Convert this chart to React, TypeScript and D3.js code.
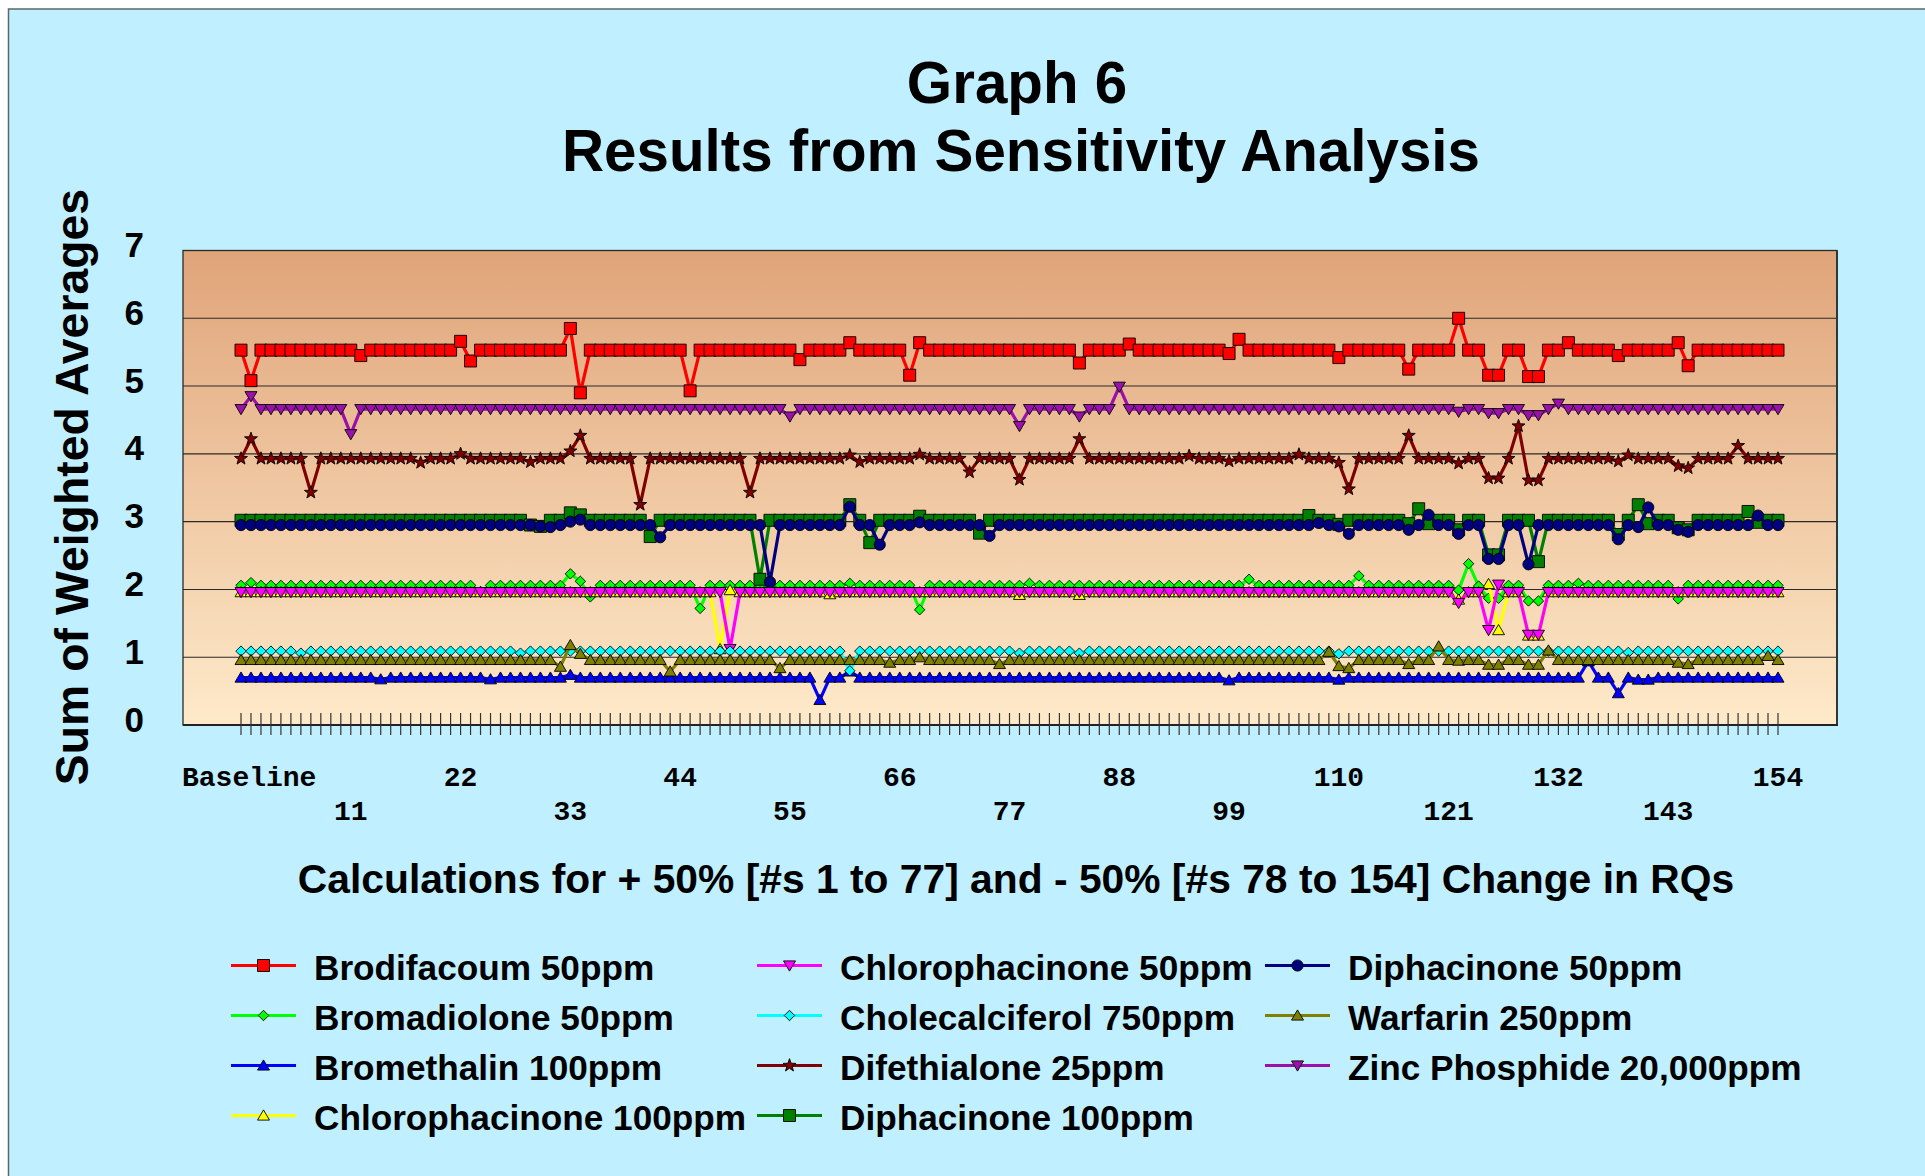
import React from 'react';
import * as d3 from 'd3';

// ---------- DATA ----------
const tickIndex = [0, 11, 22, 33, 44, 55, 66, 77, 88, 99, 110, 121, 132, 143, 154];
const tickLabels = ['Baseline', '11', '22', '33', '44', '55', '66', '77', '88', '99', '110', '121', '132', '143', '154'];
const yTicks = [0, 1, 2, 3, 4, 5, 6, 7];

const brodifacoum = [
  5.53, 5.08, 5.53, 5.53, 5.53, 5.53, 5.53, 5.53, 5.53, 5.53,
  5.53, 5.53, 5.45, 5.53, 5.53, 5.53, 5.53, 5.53, 5.53, 5.53,
  5.53, 5.53, 5.66, 5.37, 5.53, 5.53, 5.53, 5.53, 5.53, 5.53,
  5.53, 5.53, 5.53, 5.85, 4.90, 5.53, 5.53, 5.53, 5.53, 5.53,
  5.53, 5.53, 5.53, 5.53, 5.53, 4.93, 5.53, 5.53, 5.53, 5.53,
  5.53, 5.53, 5.53, 5.53, 5.53, 5.53, 5.39, 5.53, 5.53, 5.53,
  5.53, 5.64, 5.53, 5.53, 5.53, 5.53, 5.53, 5.16, 5.64, 5.53,
  5.53, 5.53, 5.53, 5.53, 5.53, 5.53, 5.53, 5.53, 5.53, 5.53,
  5.53, 5.53, 5.53, 5.53, 5.34, 5.53, 5.53, 5.53, 5.53, 5.62,
  5.53, 5.53, 5.53, 5.53, 5.53, 5.53, 5.53, 5.53, 5.53, 5.48,
  5.69, 5.53, 5.53, 5.53, 5.53, 5.53, 5.53, 5.53, 5.53, 5.53,
  5.42, 5.53, 5.53, 5.53, 5.53, 5.53, 5.53, 5.25, 5.53, 5.53,
  5.53, 5.53, 6.00, 5.53, 5.53, 5.16, 5.16, 5.53, 5.53, 5.14,
  5.14, 5.53, 5.53, 5.64, 5.53, 5.53, 5.53, 5.53, 5.45, 5.53,
  5.53, 5.53, 5.53, 5.53, 5.64, 5.30, 5.53, 5.53, 5.53, 5.53,
  5.53, 5.53, 5.53, 5.53, 5.53,
];

const bromadiolone = [
  2.06, 2.10, 2.06, 2.06, 2.06, 2.06, 2.06, 2.06, 2.06, 2.06,
  2.06, 2.06, 2.06, 2.06, 2.06, 2.06, 2.06, 2.06, 2.06, 2.06,
  2.06, 2.06, 2.06, 2.06, 1.97, 2.06, 2.06, 2.06, 2.06, 2.06,
  2.06, 2.06, 2.06, 2.23, 2.12, 1.89, 2.06, 2.06, 2.06, 2.06,
  2.06, 2.06, 2.06, 2.06, 2.06, 2.06, 1.72, 2.06, 2.06, 2.06,
  2.06, 2.06, 2.06, 2.06, 2.06, 2.06, 2.06, 2.06, 2.06, 2.06,
  2.06, 2.09, 2.06, 2.06, 2.06, 2.06, 2.06, 2.06, 1.70, 2.06,
  2.06, 2.06, 2.06, 2.06, 2.06, 2.06, 2.06, 2.06, 2.06, 2.09,
  2.06, 2.06, 2.06, 2.06, 2.06, 2.06, 2.06, 2.06, 2.06, 2.06,
  2.06, 2.06, 2.06, 2.06, 2.06, 2.06, 2.06, 2.06, 2.06, 2.06,
  2.06, 2.15, 2.06, 2.06, 2.06, 2.06, 2.06, 2.06, 2.06, 2.06,
  2.06, 2.06, 2.20, 2.06, 2.06, 2.06, 2.06, 2.06, 2.06, 2.06,
  2.06, 2.06, 1.99, 2.38, 2.05, 1.87, 1.87, 2.06, 2.06, 1.83,
  1.83, 2.06, 2.06, 2.06, 2.09, 2.06, 2.06, 2.06, 2.06, 2.06,
  2.06, 2.06, 2.06, 2.06, 1.86, 2.06, 2.06, 2.06, 2.06, 2.06,
  2.06, 2.06, 2.06, 2.06, 2.06,
];

const bromethalin = [
  0.70, 0.70, 0.70, 0.70, 0.70, 0.70, 0.70, 0.70, 0.70, 0.70,
  0.70, 0.70, 0.70, 0.70, 0.675, 0.70, 0.70, 0.70, 0.70, 0.70,
  0.70, 0.70, 0.70, 0.70, 0.70, 0.675, 0.70, 0.70, 0.70, 0.70,
  0.70, 0.70, 0.70, 0.74, 0.70, 0.70, 0.70, 0.70, 0.70, 0.70,
  0.70, 0.70, 0.70, 0.70, 0.70, 0.70, 0.70, 0.70, 0.70, 0.70,
  0.70, 0.70, 0.70, 0.70, 0.70, 0.70, 0.70, 0.70, 0.37, 0.70,
  0.70, 0.79, 0.70, 0.70, 0.70, 0.70, 0.70, 0.70, 0.70, 0.70,
  0.70, 0.70, 0.70, 0.70, 0.70, 0.70, 0.70, 0.70, 0.70, 0.70,
  0.70, 0.70, 0.70, 0.70, 0.70, 0.70, 0.70, 0.70, 0.70, 0.70,
  0.70, 0.70, 0.70, 0.70, 0.70, 0.70, 0.70, 0.70, 0.70, 0.66,
  0.70, 0.70, 0.70, 0.70, 0.70, 0.70, 0.70, 0.70, 0.70, 0.70,
  0.67, 0.70, 0.70, 0.70, 0.70, 0.70, 0.70, 0.70, 0.70, 0.70,
  0.70, 0.70, 0.70, 0.70, 0.70, 0.70, 0.70, 0.70, 0.70, 0.70,
  0.70, 0.70, 0.70, 0.70, 0.70, 0.94, 0.70, 0.70, 0.47, 0.70,
  0.67, 0.67, 0.70, 0.70, 0.70, 0.70, 0.70, 0.70, 0.70, 0.70,
  0.70, 0.70, 0.70, 0.70, 0.70,
];

const chlorophacinone100 = [
  1.96, 1.96, 1.96, 1.96, 1.96, 1.96, 1.96, 1.96, 1.96, 1.96,
  1.96, 1.96, 1.96, 1.96, 1.96, 1.96, 1.96, 1.96, 1.96, 1.96,
  1.96, 1.96, 1.96, 1.96, 1.96, 1.96, 1.96, 1.96, 1.96, 1.96,
  1.96, 1.96, 1.96, 1.96, 1.96, 1.96, 1.96, 1.96, 1.96, 1.96,
  1.96, 1.96, 1.96, 1.96, 1.96, 1.96, 1.96, 1.96, 1.12, 1.99,
  1.96, 1.96, 1.96, 1.96, 1.96, 1.96, 1.96, 1.96, 1.96, 1.93,
  1.96, 1.96, 1.96, 1.96, 1.96, 1.96, 1.96, 1.96, 1.96, 1.96,
  1.96, 1.96, 1.96, 1.96, 1.96, 1.96, 1.96, 1.96, 1.92, 1.96,
  1.96, 1.96, 1.96, 1.96, 1.92, 1.96, 1.96, 1.96, 1.96, 1.96,
  1.96, 1.96, 1.96, 1.96, 1.96, 1.96, 1.96, 1.96, 1.96, 1.96,
  1.96, 1.96, 1.96, 1.96, 1.96, 1.96, 1.96, 1.96, 1.96, 1.96,
  1.96, 1.96, 1.96, 1.96, 1.96, 1.96, 1.96, 1.96, 1.96, 1.96,
  1.96, 1.96, 1.85, 1.96, 1.96, 2.08, 1.40, 1.96, 1.96, 1.32,
  1.32, 1.96, 1.96, 1.96, 1.96, 1.96, 1.96, 1.96, 1.96, 1.96,
  1.96, 1.96, 1.96, 1.96, 1.96, 1.96, 1.96, 1.96, 1.96, 1.96,
  1.96, 1.96, 1.96, 1.96, 1.96,
];

const chlorophacinone50 = [
  1.96, 1.96, 1.96, 1.96, 1.96, 1.96, 1.96, 1.96, 1.96, 1.96,
  1.96, 1.96, 1.96, 1.96, 1.96, 1.96, 1.96, 1.96, 1.96, 1.96,
  1.96, 1.96, 1.96, 1.96, 1.96, 1.96, 1.96, 1.96, 1.96, 1.96,
  1.96, 1.96, 1.96, 1.96, 1.96, 1.96, 1.96, 1.96, 1.96, 1.96,
  1.96, 1.96, 1.96, 1.96, 1.96, 1.96, 1.96, 1.96, 1.96, 1.12,
  1.96, 1.96, 1.96, 1.96, 1.96, 1.96, 1.96, 1.96, 1.96, 1.96,
  1.96, 1.96, 1.96, 1.96, 1.96, 1.96, 1.96, 1.96, 1.96, 1.96,
  1.96, 1.96, 1.96, 1.96, 1.96, 1.96, 1.96, 1.96, 1.96, 1.96,
  1.96, 1.96, 1.96, 1.96, 1.96, 1.96, 1.96, 1.96, 1.96, 1.96,
  1.96, 1.96, 1.96, 1.96, 1.96, 1.96, 1.96, 1.96, 1.96, 1.96,
  1.96, 1.96, 1.96, 1.96, 1.96, 1.96, 1.96, 1.96, 1.96, 1.96,
  1.96, 1.96, 1.96, 1.96, 1.96, 1.96, 1.96, 1.96, 1.96, 1.96,
  1.96, 1.96, 1.80, 1.96, 1.96, 1.40, 2.07, 1.96, 1.96, 1.33,
  1.33, 1.96, 1.96, 1.96, 1.96, 1.96, 1.96, 1.96, 1.96, 1.96,
  1.96, 1.96, 1.96, 1.96, 1.96, 1.96, 1.96, 1.96, 1.96, 1.96,
  1.96, 1.96, 1.96, 1.96, 1.96,
];

const cholecalciferol = [
  1.09, 1.09, 1.09, 1.09, 1.09, 1.09, 1.06, 1.09, 1.09, 1.09,
  1.09, 1.09, 1.09, 1.09, 1.09, 1.09, 1.09, 1.09, 1.09, 1.09,
  1.09, 1.09, 1.09, 1.09, 1.09, 1.09, 1.09, 1.09, 1.06, 1.09,
  1.09, 1.09, 1.09, 1.09, 1.09, 1.09, 1.09, 1.09, 1.09, 1.09,
  1.09, 1.09, 1.09, 1.09, 1.09, 1.09, 1.09, 1.09, 1.09, 1.09,
  1.09, 1.09, 1.09, 1.09, 1.09, 1.09, 1.09, 1.09, 1.09, 1.09,
  1.09, 0.80, 1.09, 1.09, 1.09, 1.09, 1.09, 1.09, 1.09, 1.09,
  1.09, 1.09, 1.09, 1.09, 1.09, 1.09, 1.09, 1.09, 1.06, 1.09,
  1.09, 1.09, 1.09, 1.09, 1.06, 1.09, 1.09, 1.09, 1.09, 1.09,
  1.09, 1.09, 1.09, 1.09, 1.09, 1.09, 1.09, 1.09, 1.09, 1.09,
  1.09, 1.09, 1.09, 1.09, 1.09, 1.09, 1.09, 1.09, 1.09, 1.09,
  1.05, 1.09, 1.09, 1.09, 1.09, 1.09, 1.09, 1.09, 1.09, 1.09,
  1.09, 1.09, 1.09, 1.09, 1.09, 1.09, 1.09, 1.09, 1.09, 1.09,
  1.09, 1.09, 1.09, 1.09, 1.09, 1.09, 1.09, 1.09, 1.09, 1.07,
  1.09, 1.09, 1.09, 1.09, 1.09, 1.09, 1.09, 1.09, 1.09, 1.09,
  1.09, 1.09, 1.09, 1.09, 1.09,
];

const difethialone = [
  3.93, 4.22, 3.93, 3.93, 3.93, 3.93, 3.93, 3.43, 3.93, 3.93,
  3.93, 3.93, 3.93, 3.93, 3.93, 3.93, 3.93, 3.93, 3.87, 3.93,
  3.93, 3.93, 4.00, 3.93, 3.93, 3.93, 3.93, 3.93, 3.93, 3.88,
  3.93, 3.93, 3.93, 4.04, 4.27, 3.93, 3.93, 3.93, 3.93, 3.93,
  3.25, 3.93, 3.93, 3.93, 3.93, 3.93, 3.93, 3.93, 3.93, 3.93,
  3.93, 3.43, 3.93, 3.93, 3.93, 3.93, 3.93, 3.93, 3.93, 3.93,
  3.93, 3.98, 3.88, 3.93, 3.93, 3.93, 3.93, 3.93, 3.99, 3.93,
  3.93, 3.93, 3.93, 3.73, 3.93, 3.93, 3.93, 3.93, 3.62, 3.93,
  3.93, 3.93, 3.93, 3.93, 4.22, 3.93, 3.93, 3.93, 3.93, 3.93,
  3.93, 3.93, 3.93, 3.93, 3.93, 3.97, 3.93, 3.93, 3.93, 3.89,
  3.93, 3.93, 3.93, 3.93, 3.93, 3.93, 3.99, 3.93, 3.93, 3.93,
  3.87, 3.48, 3.93, 3.93, 3.93, 3.93, 3.93, 4.27, 3.93, 3.93,
  3.93, 3.93, 3.86, 3.93, 3.93, 3.64, 3.64, 3.93, 4.41, 3.61,
  3.61, 3.93, 3.93, 3.93, 3.93, 3.93, 3.93, 3.93, 3.89, 3.98,
  3.93, 3.93, 3.93, 3.93, 3.82, 3.79, 3.93, 3.93, 3.93, 3.93,
  4.12, 3.93, 3.93, 3.93, 3.93,
];

const diphacinone100 = [
  3.02, 3.02, 3.02, 3.02, 3.02, 3.02, 3.02, 3.02, 3.02, 3.02,
  3.02, 3.02, 3.02, 3.02, 3.02, 3.02, 3.02, 3.02, 3.02, 3.02,
  3.02, 3.02, 3.02, 3.02, 3.02, 3.02, 3.02, 3.02, 3.02, 2.95,
  2.93, 3.02, 3.02, 3.13, 3.10, 3.02, 3.02, 3.02, 3.02, 3.02,
  3.02, 2.78, 3.02, 3.02, 3.02, 3.02, 3.02, 3.02, 3.02, 3.02,
  3.02, 3.02, 2.15, 3.02, 3.02, 3.02, 3.02, 3.02, 3.02, 3.02,
  3.02, 3.25, 3.02, 2.69, 3.02, 3.02, 3.02, 3.02, 3.08, 3.02,
  3.02, 3.02, 3.02, 3.02, 2.83, 3.02, 3.02, 3.02, 3.02, 3.02,
  3.02, 3.02, 3.02, 3.02, 3.02, 3.02, 3.02, 3.02, 3.02, 3.02,
  3.02, 3.02, 3.02, 3.02, 3.02, 3.02, 3.02, 3.02, 3.02, 3.02,
  3.02, 3.02, 3.02, 3.02, 3.02, 3.02, 3.02, 3.09, 3.02, 3.02,
  2.96, 3.02, 3.02, 3.02, 3.02, 3.02, 3.02, 2.97, 3.19, 2.97,
  3.02, 3.02, 2.88, 3.02, 3.02, 2.51, 2.51, 3.02, 3.02, 3.02,
  2.41, 3.02, 3.02, 3.02, 3.02, 3.02, 3.02, 3.02, 2.81, 3.02,
  3.25, 2.97, 3.02, 3.02, 2.91, 2.88, 3.02, 3.02, 3.02, 3.02,
  3.02, 3.15, 2.99, 3.02, 3.02,
];

const diphacinone50 = [
  2.95, 2.95, 2.95, 2.95, 2.95, 2.95, 2.95, 2.95, 2.95, 2.95,
  2.95, 2.95, 2.95, 2.95, 2.95, 2.95, 2.95, 2.95, 2.95, 2.95,
  2.95, 2.95, 2.95, 2.95, 2.95, 2.95, 2.95, 2.95, 2.95, 2.95,
  2.93, 2.92, 2.95, 3.00, 3.03, 2.95, 2.95, 2.95, 2.95, 2.95,
  2.95, 2.95, 2.77, 2.95, 2.95, 2.95, 2.95, 2.95, 2.95, 2.95,
  2.95, 2.95, 2.95, 2.11, 2.95, 2.95, 2.95, 2.95, 2.95, 2.95,
  2.95, 3.22, 2.95, 2.95, 2.66, 2.95, 2.95, 2.95, 2.99, 2.95,
  2.95, 2.95, 2.95, 2.95, 2.95, 2.79, 2.95, 2.95, 2.95, 2.95,
  2.95, 2.95, 2.95, 2.95, 2.95, 2.95, 2.95, 2.95, 2.95, 2.95,
  2.95, 2.95, 2.95, 2.95, 2.95, 2.95, 2.95, 2.95, 2.95, 2.95,
  2.95, 2.95, 2.95, 2.95, 2.95, 2.95, 2.95, 2.95, 2.98, 2.95,
  2.93, 2.82, 2.95, 2.95, 2.95, 2.95, 2.95, 2.88, 2.95, 3.10,
  2.95, 2.95, 2.82, 2.95, 2.95, 2.45, 2.45, 2.95, 2.95, 2.37,
  2.95, 2.95, 2.95, 2.95, 2.95, 2.95, 2.95, 2.95, 2.74, 2.95,
  2.92, 3.21, 2.95, 2.95, 2.88, 2.85, 2.95, 2.95, 2.95, 2.95,
  2.95, 2.95, 3.09, 2.95, 2.95,
];

const warfarin = [
  0.96, 0.96, 0.96, 0.96, 0.96, 0.96, 0.96, 0.96, 0.96, 0.96,
  0.96, 0.96, 0.96, 0.96, 0.96, 0.96, 0.96, 0.96, 0.96, 0.96,
  0.96, 0.96, 0.96, 0.96, 0.96, 0.96, 0.96, 0.96, 0.96, 0.96,
  0.96, 0.96, 0.86, 1.18, 1.05, 0.96, 0.96, 0.96, 0.96, 0.96,
  0.96, 0.96, 0.96, 0.79, 0.96, 0.96, 0.96, 0.96, 0.96, 0.96,
  0.96, 0.96, 0.96, 0.96, 0.84, 0.96, 0.96, 0.96, 0.96, 0.96,
  0.96, 0.96, 0.96, 0.96, 0.96, 0.92, 0.96, 0.96, 1.00, 0.96,
  0.96, 0.96, 0.96, 0.96, 0.96, 0.96, 0.90, 0.96, 0.96, 0.96,
  0.96, 0.96, 0.96, 0.96, 0.96, 0.96, 0.96, 0.96, 0.96, 0.96,
  0.96, 0.96, 0.96, 0.96, 0.96, 0.96, 0.96, 0.96, 0.96, 0.96,
  0.96, 0.96, 0.96, 0.96, 0.96, 0.96, 0.96, 0.96, 0.96, 1.08,
  0.87, 0.84, 0.96, 0.96, 0.96, 0.96, 0.96, 0.90, 0.96, 0.96,
  1.16, 0.96, 0.95, 0.96, 0.96, 0.89, 0.89, 0.96, 0.96, 0.89,
  0.89, 1.10, 0.96, 0.96, 0.96, 0.96, 0.96, 0.96, 0.96, 0.96,
  0.96, 0.96, 0.96, 0.96, 0.92, 0.90, 0.96, 0.96, 0.96, 0.96,
  0.96, 0.96, 0.96, 1.02, 0.96,
];

const zincPhosphide = [
  4.66, 4.85, 4.66, 4.66, 4.66, 4.66, 4.66, 4.66, 4.66, 4.66,
  4.66, 4.29, 4.66, 4.66, 4.66, 4.66, 4.66, 4.66, 4.66, 4.66,
  4.66, 4.66, 4.66, 4.66, 4.66, 4.66, 4.66, 4.66, 4.66, 4.66,
  4.66, 4.66, 4.66, 4.66, 4.66, 4.66, 4.66, 4.66, 4.66, 4.66,
  4.66, 4.66, 4.66, 4.66, 4.66, 4.66, 4.66, 4.66, 4.66, 4.66,
  4.66, 4.66, 4.66, 4.66, 4.66, 4.55, 4.66, 4.66, 4.66, 4.66,
  4.66, 4.66, 4.66, 4.66, 4.66, 4.66, 4.66, 4.66, 4.66, 4.66,
  4.66, 4.66, 4.66, 4.66, 4.66, 4.66, 4.66, 4.66, 4.41, 4.66,
  4.66, 4.66, 4.66, 4.66, 4.55, 4.66, 4.66, 4.66, 4.99, 4.66,
  4.66, 4.66, 4.66, 4.66, 4.66, 4.66, 4.66, 4.66, 4.66, 4.66,
  4.66, 4.66, 4.66, 4.66, 4.66, 4.66, 4.66, 4.66, 4.66, 4.66,
  4.66, 4.66, 4.66, 4.66, 4.66, 4.66, 4.66, 4.66, 4.66, 4.66,
  4.66, 4.66, 4.62, 4.66, 4.66, 4.60, 4.60, 4.66, 4.66, 4.57,
  4.57, 4.66, 4.74, 4.66, 4.66, 4.66, 4.66, 4.66, 4.66, 4.66,
  4.66, 4.66, 4.66, 4.66, 4.66, 4.66, 4.66, 4.66, 4.66, 4.66,
  4.66, 4.66, 4.66, 4.66, 4.66,
];

type Marker = 'square' | 'diamond' | 'triUp' | 'triDown' | 'star' | 'circle';

const seriesNames = [
  'Brodifacoum 50ppm', 'Bromadiolone 50ppm', 'Bromethalin 100ppm', 'Chlorophacinone 100ppm',
  'Chlorophacinone 50ppm', 'Cholecalciferol 750ppm', 'Difethialone 25ppm', 'Diphacinone 100ppm',
  'Diphacinone 50ppm', 'Warfarin 250ppm', 'Zinc Phosphide 20,000ppm',
];
const seriesValues = [
  brodifacoum, bromadiolone, bromethalin, chlorophacinone100, chlorophacinone50,
  cholecalciferol, difethialone, diphacinone100, diphacinone50, warfarin, zincPhosphide,
];
const seriesColors = [
  '#FF0000', '#00FF00', '#0000FF', '#FFFF00', '#FF00FF', '#00FFFF',
  '#800000', '#008000', '#000080', '#808000', '#9B10AA',
];
const seriesMarkers: Marker[] = [
  'square', 'diamond', 'triUp', 'triUp', 'triDown', 'diamond',
  'star', 'square', 'circle', 'triUp', 'triDown',
];

// ---------- LAYOUT ----------
const W = 1925;
const H = 1176;
const plot = { left: 183, top: 250.5, right: 1837, bottom: 725 };
const FONT = "'Liberation Sans', Arial, Helvetica, sans-serif";
const MONO = "'Liberation Mono', 'Courier New', monospace";

function starPath(ro: number, ri: number) {
  const pts: string[] = [];
  for (let k = 0; k < 10; k++) {
    const r = k % 2 === 0 ? ro : ri;
    const a = -Math.PI / 2 + (k * Math.PI) / 5;
    pts.push(`${(r * Math.cos(a)).toFixed(2)},${(r * Math.sin(a)).toFixed(2)}`);
  }
  return 'M' + pts.join('L') + 'Z';
}

const markerPaths: Record<Exclude<Marker, 'circle'>, string> = {
  square: 'M-6,-6H6V6H-6Z',
  diamond: 'M0,-5.2L5.2,0L0,5.2L-5.2,0Z',
  triUp: 'M0,-5.6L6,4.6L-6,4.6Z',
  triDown: 'M-6,-4.6L6,-4.6L0,5.6Z',
  star: starPath(6.8, 2.8),
};

function MarkerShape({ type, x, y, fill }: { type: Marker; x: number; y: number; fill: string }) {
  if (type === 'circle') {
    return <circle cx={x} cy={y} r={5.6} fill={fill} stroke="#000" strokeWidth={0.9} />;
  }
  return (
    <path
      d={markerPaths[type]}
      transform={`translate(${x},${y})`}
      fill={fill}
      stroke="#000"
      strokeWidth={0.9}
      strokeLinejoin="miter"
    />
  );
}

export default function App() {
  const x = d3.scaleLinear().domain([0, 154]).range([241, 1778]);
  const y = d3.scaleLinear().domain([0, 7]).range([plot.bottom, plot.top]);
  const idx = d3.range(brodifacoum.length);

  const line = d3
    .line<number>()
    .x((_, i) => x(i))
    .y((d) => y(d));

  const legendCols = [314, 840, 1348];
  const legendRows = [965.5, 1015.5, 1065.5, 1115.5];

  return (
    <svg
      width={W}
      height={H}
      viewBox={`0 0 ${W} ${H}`}
      style={{ position: 'fixed', left: 0, top: 0, display: 'block' }}
    >
      <defs>
        <linearGradient id="plotGrad" x1="0" y1="0" x2="0" y2="1">
          <stop offset="0%" stopColor="#E0A479" />
          <stop offset="100%" stopColor="#FEEACA" />
        </linearGradient>
        <clipPath id="plotClip">
          <rect x={plot.left} y={plot.top - 10} width={plot.right - plot.left} height={plot.bottom - plot.top + 10} />
        </clipPath>
      </defs>

      <rect x={0} y={0} width={W} height={H} fill="#FFFFFF" />
      <rect x={8.5} y={9} width={W + 10} height={H + 10} fill="#C0EFFF" stroke="#5C6868" strokeWidth={1.5} />

      {/* plot area */}
      <rect
        x={plot.left}
        y={plot.top}
        width={plot.right - plot.left}
        height={plot.bottom - plot.top}
        fill="url(#plotGrad)"
      />
      {yTicks
        .filter((t) => t > 0 && t < 7)
        .map((t) => (
          <line key={t} x1={plot.left} x2={plot.right} y1={y(t)} y2={y(t)} stroke="#2A2A2A" strokeWidth={1.1} />
        ))}
      <rect
        x={plot.left}
        y={plot.top}
        width={plot.right - plot.left}
        height={plot.bottom - plot.top}
        fill="none"
        stroke="#2A2A2A"
        strokeWidth={1.3}
      />
      <line x1={plot.right} x2={plot.right} y1={plot.top} y2={plot.bottom} stroke="#2A3A3A" strokeWidth={2} />
      <line x1={plot.left} x2={plot.right + 1} y1={plot.bottom} y2={plot.bottom} stroke="#222" strokeWidth={2.2} />

      {/* category ticks */}
      {idx.map((i) => (
        <line key={i} x1={x(i)} x2={x(i)} y1={713} y2={735} stroke="#333" strokeWidth={1.2} />
      ))}

      {/* y tick labels */}
      {yTicks.map((t) => (
        <text
          key={t}
          x={144}
          y={y(t) + 6.5}
          textAnchor="end"
          fontFamily={FONT}
          fontWeight="bold"
          fontSize={35}
          fill="#000"
        >
          {t}
        </text>
      ))}

      {/* x tick labels */}
      {tickIndex.map((ti, k) => (
        <text
          key={ti}
          x={ti === 0 ? plot.left - 1 : x(ti)}
          y={k % 2 === 0 ? 785.5 : 819.5}
          textAnchor={ti === 0 ? 'start' : 'middle'}
          fontFamily={MONO}
          fontWeight="bold"
          fontSize={28}
          fill="#000"
        >
          {tickLabels[k]}
        </text>
      ))}

      {/* series */}
      <g clipPath="url(#plotClip)">
        {seriesValues.map((vals, s) => (
          <g key={seriesNames[s]}>
            <path d={line(vals) || ''} fill="none" stroke={seriesColors[s]} strokeWidth={3.2} strokeLinejoin="round" />
            {vals.map((v, i) => (
              <MarkerShape key={i} type={seriesMarkers[s]} x={x(i)} y={y(v)} fill={seriesColors[s]} />
            ))}
          </g>
        ))}
      </g>

      {/* titles */}
      <text x={1017} y={103} textAnchor="middle" fontFamily={FONT} fontWeight="bold" fontSize={58.3} fill="#000">
        Graph 6
      </text>
      <text x={1021} y={171} textAnchor="middle" fontFamily={FONT} fontWeight="bold" fontSize={58.3} fill="#000">
        Results from Sensitivity Analysis
      </text>
      <text
        transform="translate(88,487) rotate(-90)"
        textAnchor="middle"
        fontFamily={FONT}
        fontWeight="bold"
        fontSize={46.4}
        fill="#000"
      >
        Sum of Weighted Averages
      </text>
      <text x={1016} y={893} textAnchor="middle" fontFamily={FONT} fontWeight="bold" fontSize={40.8} fill="#000">
        Calculations for + 50% [#s 1 to 77] and - 50% [#s 78 to 154] Change in RQs
      </text>

      {/* legend */}
      {seriesNames.map((name, s) => {
        const col = Math.floor(s / 4);
        const row = s % 4;
        const tx = legendCols[col];
        const ly = legendRows[row];
        const x1 = tx - 83;
        const x2 = tx - 18;
        return (
          <g key={name}>
            <line x1={x1} x2={x2} y1={ly} y2={ly} stroke={seriesColors[s]} strokeWidth={3} />
            <MarkerShape type={seriesMarkers[s]} x={(x1 + x2) / 2} y={ly} fill={seriesColors[s]} />
            <text x={tx} y={ly + 14.5} fontFamily={FONT} fontWeight="bold" fontSize={35.2} fill="#000">
              {name}
            </text>
          </g>
        );
      })}
    </svg>
  );
}
